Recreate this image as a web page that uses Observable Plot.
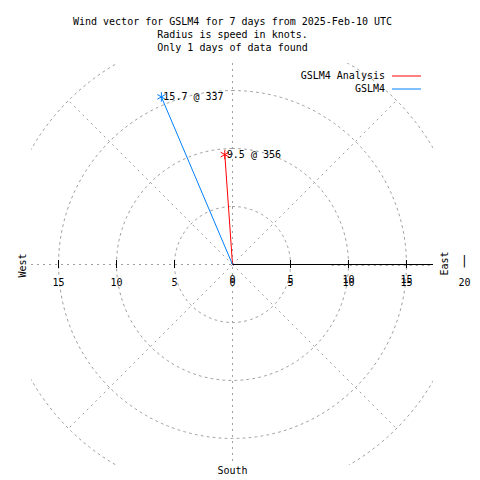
<!DOCTYPE html>
<html><head><meta charset="utf-8">
<script src="https://cdn.jsdelivr.net/npm/d3@7"></script>
<script src="https://cdn.jsdelivr.net/npm/@observablehq/plot@0.6"></script>
<style>body{margin:0;background:#fff;}</style>
</head><body><div id="chart"></div>
<script>
const titleLines = ["Wind vector for GSLM4 for 7 days from 2025-Feb-10 UTC", "Radius is speed in knots.", "Only 1 days of data found"];
const seriesNames = ["GSLM4 Analysis", "GSLM4"];
const seriesSpeeds = [9.5, 15.7];
const seriesDirections = [356, 337];
const seriesColors = ["#ff0000", "#0080ff"];
const gridRadii = [5, 10, 15, 20];
const spokeAngles = [45, 135, 225, 315];
const leftTicks = [-15, -10, -5];
const rightTicks = [0, 5, 10, 15];
const outerTicks = [20];
const rMax = 17.33;

const rad = d => d * Math.PI / 180;
const vectors = seriesNames.map((name, i) => ({
  name, color: seriesColors[i], speed: seriesSpeeds[i], dir: seriesDirections[i],
  x: seriesSpeeds[i] * Math.sin(rad(seriesDirections[i])),
  y: seriesSpeeds[i] * Math.cos(rad(seriesDirections[i])),
  label: `${seriesSpeeds[i].toFixed(1)} @ ${seriesDirections[i]}`
}));
const circlePts = gridRadii.flatMap(r => d3.range(0, 361, 2).map(a => ({r, x: r * Math.sin(rad(a)), y: r * Math.cos(rad(a))})));
const spokes = spokeAngles.map(a => ({x: 20 * Math.sin(rad(a)), y: 20 * Math.cos(rad(a))}));
const grid = {stroke: "#a0a0a0", strokeDasharray: "2,4", strokeWidth: 1};
const innerTicks = [...leftTicks, ...rightTicks.filter(v => v !== 0)];

const plot = Plot.plot({
  width: 480, height: 480,
  marginLeft: 31, marginRight: 47, marginTop: 63, marginBottom: 15,
  x: {domain: [-rMax, rMax], axis: null},
  y: {domain: [-rMax, rMax], axis: null},
  style: {fontFamily: "DejaVu Sans Mono", fontSize: "10px", background: "white", color: "black", overflow: "visible"},
  marks: [
    Plot.line(circlePts, {x: "x", y: "y", z: "r", ...grid, clip: true}),
    Plot.link(spokes, {x1: 0, y1: 0, x2: "x", y2: "y", ...grid, clip: true}),
    Plot.ruleX([0], grid),
    Plot.ruleY([0], {x1: -rMax, x2: 0, ...grid}),
    Plot.ruleY([0], {x1: 8.6, x2: rMax, ...grid, dy: 1}),
    Plot.ruleY([0], {x1: 0, x2: rMax, stroke: "black", strokeWidth: 1}),
    Plot.ruleX(innerTicks, {x: d => d, y1: 0, y2: 0, insetTop: -4, insetBottom: -4, stroke: "black"}),
    Plot.text(outerTicks, {x: d => d, y: 0, text: () => "|", dy: -3, fill: "black", fontSize: 12}),
    Plot.text(leftTicks, {x: d => d, y: 0, text: d => String(Math.abs(d)), dy: 18, fill: "black"}),
    Plot.text(rightTicks, {x: d => d, y: 0, text: d => String(d), dy: 18, fill: "black"}),
    Plot.text(rightTicks, {x: d => d, y: 0, text: d => String(d), dy: 15, fill: "black"}),
    Plot.text(outerTicks, {x: d => d, y: 0, text: d => String(d), dy: 18, fill: "black"}),
    Plot.text(["West"], {frameAnchor: "left", textAnchor: "middle", lineAnchor: "middle", dx: -9, dy: 1, rotate: -90, fill: "black"}),
    Plot.text(["East"], {frameAnchor: "right", textAnchor: "middle", lineAnchor: "middle", dx: 11, dy: -1, rotate: -90, fill: "black"}),
    Plot.text(["South"], {frameAnchor: "bottom", dy: 8, fill: "black"}),
    Plot.text([titleLines.join("\n")], {frameAnchor: "top", dy: -30, lineAnchor: "middle", lineHeight: 1.3, fill: "black"}),
    Plot.link(vectors, {x1: 0, y1: 0, x2: "x", y2: "y", stroke: "color", strokeWidth: 1}),
    Plot.dot(vectors, {x: "x", y: "y", symbol: "asterisk", r: 4.5, stroke: "color", strokeWidth: 1}),
    Plot.text(vectors, {x: "x", y: "y", text: "label", textAnchor: "start", dx: 2, fill: "black"})
  ]
});
document.getElementById("chart").appendChild(plot);

// legend (text + swatches), placed at the top right
const svg = d3.select(plot);
const leg = svg.append("g").attr("font-family", "DejaVu Sans Mono").attr("font-size", 10);
seriesNames.forEach((name, i) => {
  const y = 76 + i * 13;
  leg.append("text").attr("x", 385).attr("y", y).attr("dy", "0.32em").attr("text-anchor", "end").attr("fill", "black").text(name);
  leg.append("line").attr("x1", 392).attr("x2", 421).attr("y1", y).attr("y2", y).attr("stroke", seriesColors[i]).attr("stroke-width", 1);
});
</script>
</body></html>
